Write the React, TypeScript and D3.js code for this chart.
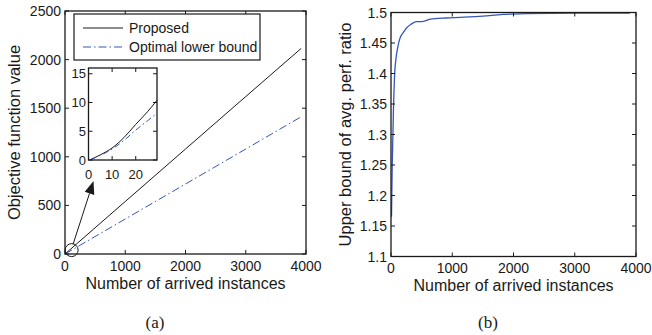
import React from "react";
import * as d3 from "d3";

// (a) main panel: number of arrived instances vs objective value
const mainArrivals = [0, 1000, 2000, 3000, 3920];
const proposedMain = [0, 540, 1080, 1620, 2115];
const lowerBoundMain = [0, 360, 720, 1080, 1412];

// (a) inset: zoom on the first few instances
const insetArrivals = [1, 5, 10, 15, 20, 25, 29];
const proposedInset = [0.1, 0.9, 2.1, 3.9, 6.2, 8.4, 10.4];
const insetArrivalsLB = [1, 5, 10, 15, 20, 24, 28];
const lowerBoundInset = [0.1, 0.8, 1.9, 3.4, 5.2, 6.5, 7.8];

// (b) upper bound of average performance ratio
const ratioArrivals = [8, 20, 40, 60, 82, 110, 147, 200, 256, 330, 420, 500, 640, 900, 1130, 1500, 1830, 2200, 3000, 3900];
const ratioValues = [1.165, 1.25, 1.34, 1.4, 1.425, 1.443, 1.458, 1.467, 1.475, 1.481, 1.485, 1.485, 1.489, 1.491, 1.492, 1.494, 1.497, 1.498, 1.499, 1.499];

const xTicks = [0, 1000, 2000, 3000, 4000];
const yTicksA = [0, 500, 1000, 1500, 2000, 2500];
const yTicksB = [1.1, 1.15, 1.2, 1.25, 1.3, 1.35, 1.4, 1.45, 1.5];
const insetXTicks = [0, 10, 20];
const insetYTicks = [0, 5, 10, 15];

const FONT = "'Liberation Sans', Arial, sans-serif";
const INK = "#1a1a1a";
const BLUE = "#3556b8";
const TICK = 4;

type Lin = d3.ScaleLinear<number, number>;

function Frame({ x, y, xt, yt, fs, xfmt, yfmt, labelGap, yGap = 4 }: {
  x: Lin; y: Lin; xt: number[]; yt: number[]; fs: number;
  xfmt: (v: number) => string; yfmt: (v: number) => string; labelGap: number; yGap?: number;
}) {
  const [x0, x1] = x.range();
  const [y0, y1] = y.range();
  return (
    <g>
      {xt.map(t => (
        <g key={"x" + t}>
          <line x1={x(t)} x2={x(t)} y1={y0} y2={y0 - TICK} stroke={INK} />
          <line x1={x(t)} x2={x(t)} y1={y1} y2={y1 + TICK} stroke={INK} />
          <text x={x(t)} y={y0 + labelGap} fontSize={fs} textAnchor="middle" fill={INK}>{xfmt(t)}</text>
        </g>
      ))}
      {yt.map(t => (
        <g key={"y" + t}>
          <line x1={x0} x2={x0 + TICK} y1={y(t)} y2={y(t)} stroke={INK} />
          <line x1={x1} x2={x1 - TICK} y1={y(t)} y2={y(t)} stroke={INK} />
          <text x={x0 - yGap} y={y(t)} dy="0.36em" fontSize={fs} textAnchor="end" fill={INK}>{yfmt(t)}</text>
        </g>
      ))}
      <rect x={x0} y={y1} width={x1 - x0} height={y0 - y1} fill="none" stroke={INK} strokeWidth={1.3} />
    </g>
  );
}

export default function App() {
  // panel (a)
  const xa = d3.scaleLinear().domain([0, 4000]).range([65, 306]);
  const ya = d3.scaleLinear().domain([0, 2500]).range([254, 11]);
  const lineA = d3.line<[number, number]>().x(d => xa(d[0])).y(d => ya(d[1]));
  const propA = lineA(mainArrivals.map((v, i) => [v, proposedMain[i]]));
  const lbA = lineA(mainArrivals.map((v, i) => [v, lowerBoundMain[i]]));

  // inset
  const xi = d3.scaleLinear().domain([0, 29]).range([88.5, 157]);
  const yi = d3.scaleLinear().domain([0, 16]).range([160, 68]);
  const lineI = d3.line<[number, number]>().x(d => xi(d[0])).y(d => yi(d[1])).curve(d3.curveMonotoneX);
  const propI = lineI(insetArrivals.map((v, i) => [v, proposedInset[i]]));
  const lbI = lineI(insetArrivalsLB.map((v, i) => [v, lowerBoundInset[i]]));

  // panel (b)
  const xb = d3.scaleLinear().domain([0, 4000]).range([391, 636]);
  const yb = d3.scaleLinear().domain([1.1, 1.5]).range([256.5, 12.5]);
  const lineB = d3.line<[number, number]>().x(d => xb(d[0])).y(d => yb(d[1])).curve(d3.curveMonotoneX);
  const ratioPath = lineB(ratioArrivals.map((v, i) => [v, ratioValues[i]]));

  // zoom annotation: ellipse around origin, arrow to inset
  const ex = xa(110), ey = ya(40);
  const tail: [number, number] = [ex + 1.5, ey - 6];
  const tip: [number, number] = [xi(0) + 5, yi(0) + 21];
  const ang = Math.atan2(tip[1] - tail[1], tip[0] - tail[0]);
  const hl = 13, hw = 5;
  const base: [number, number] = [tip[0] - hl * Math.cos(ang), tip[1] - hl * Math.sin(ang)];
  const head = [
    tip,
    [base[0] + hw * Math.sin(ang), base[1] - hw * Math.cos(ang)],
    [base[0] - hw * Math.sin(ang), base[1] + hw * Math.cos(ang)],
  ].map(p => p.join(",")).join(" ");

  const plain = (v: number) => String(v);
  const dec = (v: number) => String(Math.round(v * 100) / 100);
  const dashDot = "8,3,1.5,3";

  return (
    <div style={{ position: "absolute", left: 0, top: 0 }}>
      <svg width={652} height={335} style={{ display: "block", background: "#fff", fontFamily: FONT }}>
        {/* panel (a) */}
        <path d={propA || ""} fill="none" stroke={INK} strokeWidth={1} />
        <path d={lbA || ""} fill="none" stroke={BLUE} strokeWidth={1} strokeDasharray={dashDot} />
        <Frame x={xa} y={ya} xt={xTicks} yt={yTicksA} fs={14} xfmt={plain} yfmt={plain} labelGap={16.5} />
        <text x={(65 + 306) / 2} y={289} fontSize={16} textAnchor="middle" fill={INK}>Number of arrived instances</text>
        <text transform={`translate(20,${(11 + 254) / 2}) rotate(-90)`} fontSize={16.5} textAnchor="middle" fill={INK}>Objective function value</text>

        {/* legend */}
        <rect x={74} y={14} width={186} height={46} fill="#fff" stroke={INK} strokeWidth={1.2} />
        <line x1={83} x2={123} y1={28} y2={28} stroke={INK} />
        <text x={129} y={28} dy="0.36em" fontSize={14} fill={INK}>Proposed</text>
        <line x1={83} x2={123} y1={47} y2={47} stroke={BLUE} strokeDasharray={dashDot} />
        <text x={129} y={47} dy="0.36em" fontSize={14} fill={INK}>Optimal lower bound</text>

        {/* inset */}
        <rect x={88.5} y={68} width={157 - 88.5} height={92} fill="#fff" />
        <path d={propI || ""} fill="none" stroke={INK} strokeWidth={1} />
        <path d={lbI || ""} fill="none" stroke={BLUE} strokeWidth={1} strokeDasharray="6,3,1.5,3" />
        <Frame x={xi} y={yi} xt={insetXTicks} yt={insetYTicks} fs={13} xfmt={plain} yfmt={plain} labelGap={18.5} yGap={2.5} />

        {/* zoom annotation */}
        <ellipse cx={ex} cy={ey} rx={6.5} ry={6.5} fill="none" stroke={INK} strokeWidth={1} />
        <line x1={tail[0]} y1={tail[1]} x2={base[0]} y2={base[1]} stroke={INK} strokeWidth={1} />
        <polygon points={head} fill={INK} />

        <text x={155} y={328} fontSize={17} textAnchor="middle" fill={INK} fontFamily="'Liberation Serif', serif">(a)</text>

        {/* panel (b) */}
        <path d={ratioPath || ""} fill="none" stroke={BLUE} strokeWidth={1.3} />
        <Frame x={xb} y={yb} xt={xTicks} yt={yTicksB} fs={14} xfmt={plain} yfmt={dec} labelGap={16} />
        <text x={(391 + 636) / 2} y={290.5} fontSize={16} textAnchor="middle" fill={INK}>Number of arrived instances</text>
        <text transform={`translate(351,${(12.5 + 256.5) / 2}) rotate(-90)`} fontSize={16.5} textAnchor="middle" fill={INK}>Upper bound of avg. perf. ratio</text>
        <text x={488} y={328} fontSize={17} textAnchor="middle" fill={INK} fontFamily="'Liberation Serif', serif">(b)</text>
      </svg>
    </div>
  );
}
